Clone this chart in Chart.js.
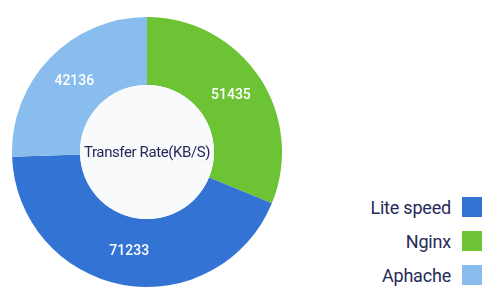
<!DOCTYPE html>
<html>
<head>
<meta charset="utf-8">
<script src="https://cdn.jsdelivr.net/npm/chart.js@4/dist/chart.umd.min.js"></script>
<style>
  html, body { margin: 0; padding: 0; background: #ffffff; }
  body { width: 500px; height: 301px; position: relative; overflow: hidden; font-family: Roboto, "Noto Sans", sans-serif; }
  #wrap { position: absolute; left: 12px; top: 17px; width: 270px; height: 270px; }
  #legend { position: absolute; right: 18px; top: 197px; }
  .item { display: flex; align-items: center; justify-content: flex-end; height: 20px; margin-bottom: 14px; }
  .item span { font-size: 18px; font-weight: 400; color: #262a5a; margin-right: 11px; letter-spacing: -0.2px; }
  .item i { display: block; width: 20px; height: 20px; }
</style>
</head>
<body>
<div id="wrap"><canvas id="c"></canvas></div>
<div id="legend"></div>
<script>
const categories = ['Lite speed', 'Nginx', 'Aphache'];
const values = [71233, 51435, 42136];
const colors = ['#3373d4', '#6cc334', '#89bdee'];
const centerTitle = 'Transfer Rate(KB/S)';
// clockwise drawing order starting at 12 o'clock
const drawOrder = [1, 0, 2];

const legend = document.getElementById('legend');
categories.forEach((c, i) => {
  const d = document.createElement('div');
  d.className = 'item';
  d.innerHTML = '<span></span><i></i>';
  d.querySelector('span').textContent = c;
  d.querySelector('i').style.background = colors[i];
  legend.appendChild(d);
});

const centerPlugin = {
  id: 'centerPlugin',
  afterDatasetsDraw(chart) {
    const ctx = chart.ctx;
    const meta = chart.getDatasetMeta(0);
    const arc0 = meta.data[0];
    const cx = arc0.x, cy = arc0.y;
    const inner = arc0.innerRadius, outer = arc0.outerRadius;
    ctx.save();
    ctx.beginPath();
    ctx.arc(cx, cy, inner, 0, Math.PI * 2);
    ctx.fillStyle = '#f9fafc';
    ctx.fill();
    ctx.fillStyle = '#262a5a';
    ctx.font = '400 15px Roboto';
    ctx.letterSpacing = '-0.4px';
    ctx.textAlign = 'center';
    ctx.textBaseline = 'middle';
    ctx.fillText(centerTitle, cx, cy + 1);
    ctx.letterSpacing = '0px';
    ctx.font = '500 14px Roboto';
    ctx.fillStyle = '#ffffff';
    meta.data.forEach((arc, i) => {
      const mid = (arc.startAngle + arc.endAngle) / 2;
      const r = (inner + outer) / 2;
      ctx.fillText(String(chart.data.datasets[0].data[i]), cx + Math.cos(mid) * r, cy + Math.sin(mid) * r);
    });
    ctx.restore();
  }
};

new Chart(document.getElementById('c'), {
  type: 'doughnut',
  data: {
    labels: drawOrder.map(i => categories[i]),
    datasets: [{
      data: drawOrder.map(i => values[i]),
      backgroundColor: drawOrder.map(i => colors[i]),
      borderWidth: 0
    }]
  },
  options: {
    responsive: true,
    maintainAspectRatio: false,
    animation: false,
    cutout: 67,
    layout: { padding: 0 },
    plugins: { legend: { display: false }, tooltip: { enabled: false } }
  },
  plugins: [centerPlugin]
});
</script>
</body>
</html>
